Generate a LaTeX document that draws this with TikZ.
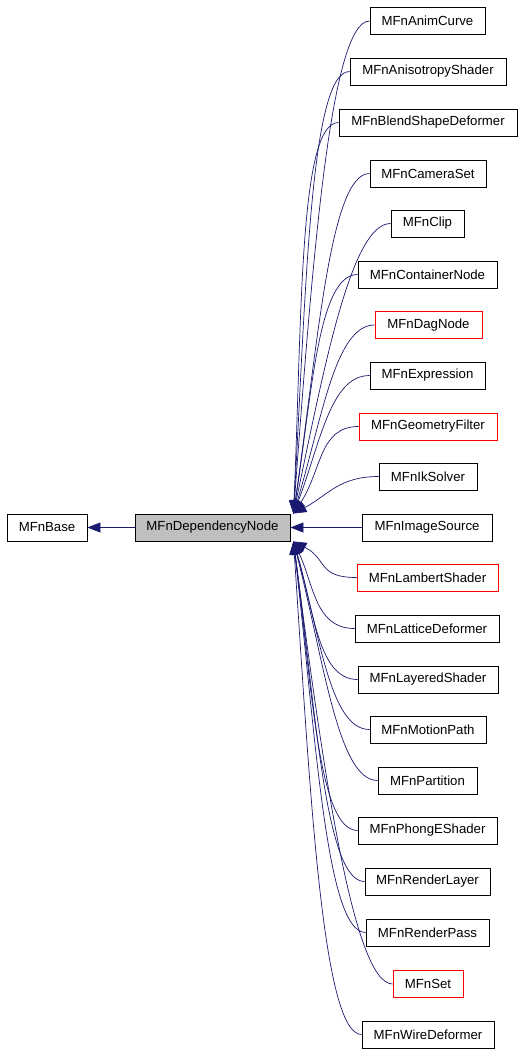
\documentclass[tikz,border=0pt]{standalone}
\usepackage{fontspec}
\setmainfont{Liberation Sans}
\usetikzlibrary{arrows.meta}
\definecolor{edgeblue}{HTML}{191970}
\definecolor{depgray}{HTML}{BFBFBF}
\tikzset{
  cls/.style={draw=black, line width=0.9pt, minimum height=27pt, inner sep=0pt,
    font=\fontsize{13.2}{15}\selectfont, fill=white},
  edge/.style={draw=edgeblue, line width=0.7pt, -{Triangle[length=13pt,width=10pt]}}
}
\begin{document}
\begin{tikzpicture}[x=1pt,y=-1pt]
\useasboundingbox (0,0) rectangle (524,1055);
\node[cls, minimum width=80pt] (base) at (47,527.5) {MFnBase};
\node[cls, minimum width=155pt, fill=depgray] (dep) at (212.5,527.5) {MFnDependencyNode};
% s = +1 upper (end at top edge), -1 lower; v = x of second control
\foreach \n/\x/\y/\w/\c/\s/\v in {
  AnimCurve/427.5/21/115/black/1/312,
  AnisotropyShader/428/71.5/156/black/1/306,
  BlendShapeDeformer/428/122.5/178/black/1/302,
  CameraSet/428/173.5/116/black/1/318,
  Clip/427.5/223.5/73/black/1/324,
  ContainerNode/427.5/274.5/139/black/1/312,
  DagNode/428.5/325/107/red/1/322,
  Expression/427.5/375.5/115/black/1/320,
  GeometryFilter/428/426.5/138/red/1/322,
  IkSolver/428/476.5/98/black/1/328,
  LambertShader/427.5/577.5/141/red/-1/328,
  LatticeDeformer/427/628.5/144/black/-1/314,
  LayeredShader/428/679.5/140/black/-1/314,
  MotionPath/428/729.5/116/black/-1/320,
  Partition/427.5/780.5/99/black/-1/324,
  PhongEShader/427.5/830.5/139/black/-1/312,
  RenderLayer/427.5/881.5/125/black/-1/316,
  RenderPass/427.5/932.5/123/black/-1/316,
  Set/428/984/70/red/-1/322,
  WireDeformer/428/1034.5/132/black/-1/310}{
  \node[cls, draw=\c, minimum width=\w pt] (n\n) at (\x,\y) {MFn\n};
  \pgfmathsetmacro{\ey}{527.5-\s*13.5}
  \pgfmathsetmacro{\cy}{\ey-0.5*(\ey-\y)}
  \pgfmathsetmacro{\cx}{\x-\w/2-40}
  \ifnum\s=1
    \draw[edge] (n\n.west) .. controls (\cx,\y) and (\v,\cy) .. ([xshift=3pt]dep.north east);
  \else
    \draw[edge] (n\n.west) .. controls (\cx,\y) and (\v,\cy) .. ([xshift=3pt]dep.south east);
  \fi
}
\node[cls, minimum width=130pt] (nImageSource) at (427,527.5) {MFnImageSource};
\draw[edge] (nImageSource.west) -- (dep.east);
\draw[edge] (dep.west) -- (base.east);
\end{tikzpicture}
\end{document}
